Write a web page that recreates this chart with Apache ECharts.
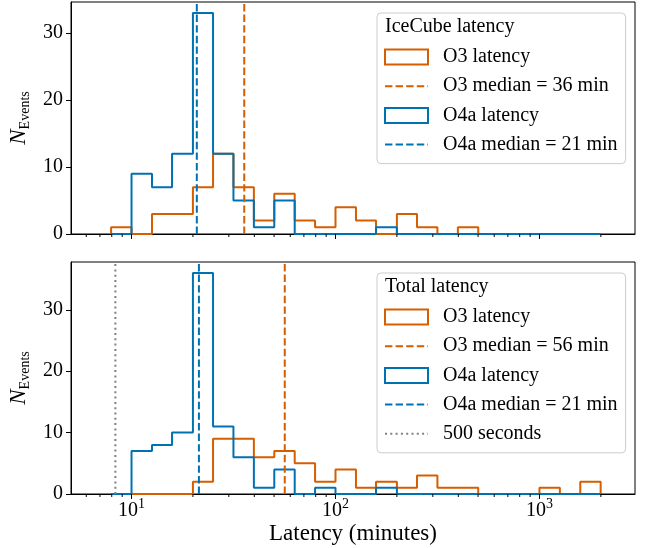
<!DOCTYPE html>
<html>
<head>
<meta charset="utf-8"/>
<script src="https://cdn.jsdelivr.net/npm/echarts@6/dist/echarts.min.js"></script>
<style>html,body{margin:0;padding:0;background:#fff;}</style>
</head>
<body>
<div id="chartmain" style="width:647px;height:548px;"></div>
<script type="text/javascript">
// log spaced bin edges (10 per decade), minutes
var binEdges = [7.94, 10, 12.6, 15.8, 20.0, 25.1, 31.6, 39.8, 50.1, 63.1, 79.4, 100, 126, 158, 200, 251, 316, 398, 501, 631, 794, 1000, 1259, 1585, 1995];
// counts per bin
var iceO3  = [1, 0, 3, 3, 7, 12, 7, 2, 6, 2, 1, 4, 2, 0, 3, 1, 0, 1, 0, 0, 0, 0, 0, 0];
var iceO4a = [0, 9, 7, 12, 33, 12, 5, 1, 5, 0, 0, 0, 0, 1, 0, 0, 0, 0, 0, 0, 0, 0, 0, 0];
var totO3  = [0, 0, 0, 0, 2, 9, 9, 6, 7, 5, 2, 4, 1, 2, 1, 3, 1, 1, 0, 0, 0, 1, 0, 2];
var totO4a = [0, 7, 8, 10, 36, 11, 6, 1, 4, 0, 1, 0, 0, 1, 0, 0, 0, 0, 0, 0, 0, 0, 0, 0];
// medians (minutes)
var iceMedians = [35.7, 20.9];
var totMedians = [56.4, 21.4];
var threshold = 500 / 60;
// ticks
var majorTicks = [10, 100, 1000];
var minorTicks = [6, 7, 8, 9, 20, 30, 40, 50, 60, 70, 80, 90, 200, 300, 400, 500, 600, 700, 800, 900, 2000];
var yTicks = [0, 10, 20, 30];

var orange = '#d55e00', blue = '#0072b2', grey = '#808080';
var font = 'Liberation Serif';

function stepPts(counts) {
  var pts = [[binEdges[0], 0]];
  for (var i = 0; i < counts.length; i++) {
    pts.push([binEdges[i], counts[i]]);
    pts.push([binEdges[i + 1], counts[i]]);
  }
  pts.push([binEdges[binEdges.length - 1], 0]);
  return pts;
}

function histSeries(name, counts, color, idx) {
  return {
    name: name, type: 'line', xAxisIndex: idx, yAxisIndex: idx,
    data: stepPts(counts), symbol: 'none', silent: true,
    lineStyle: {color: color, width: 2}, itemStyle: {color: color}
  };
}

function vline(name, x, color, dash, idx) {
  return {
    name: name, type: 'line', xAxisIndex: idx, yAxisIndex: idx,
    data: [[x, 0], [x, 100]], symbol: 'none', silent: true, z: 4,
    lineStyle: {color: color, width: 2, type: dash}, itemStyle: {color: color}
  };
}

function tickSeries(idx) {
  return {
    type: 'custom', xAxisIndex: idx, yAxisIndex: idx, silent: true, clip: false, z: 5,
    data: majorTicks.map(function (v) { return [v, 5]; }).concat(minorTicks.map(function (v) { return [v, 3]; })),
    renderItem: function (params, api) {
      var p = api.coord([api.value(0), 0]);
      return {
        type: 'line',
        shape: {x1: p[0], y1: p[1], x2: p[0], y2: p[1] + api.value(1)},
        style: {stroke: '#000', lineWidth: 1}
      };
    }
  };
}

function xAxis(idx, labels) {
  return {
    type: 'log', gridIndex: idx, min: 5.05, max: 2940,
    axisLine: {lineStyle: {color: '#000', width: 1}},
    axisTick: {show: false}, splitLine: {show: false}, minorTick: {show: false},
    axisLabel: {
      show: labels, showMinLabel: false, showMaxLabel: false, margin: 7,
      formatter: function (v) {
        var l = Math.log10(v), e = Math.round(l);
        if (Math.abs(l - e) > 0.01) return '';
        return '{b|10}{s|' + e + '}';
      },
      rich: {
        b: {fontFamily: font, fontSize: 20, lineHeight: 20, color: '#000', verticalAlign: 'bottom'},
        s: {fontFamily: font, fontSize: 14, lineHeight: 14, color: '#000', padding: [0, 0, 10, 0], verticalAlign: 'bottom'}
      }
    },
    name: labels ? 'Latency (minutes)' : '', nameLocation: 'middle', nameGap: 28,
    nameTextStyle: {fontFamily: font, fontSize: 23, color: '#000'}
  };
}

function yAxis(idx, max) {
  return {
    type: 'value', gridIndex: idx, min: 0, max: max,
    axisLine: {show: true, lineStyle: {color: '#000', width: 1}},
    axisTick: {show: true, length: 5, customValues: yTicks, lineStyle: {color: '#000'}},
    splitLine: {show: false},
    axisLabel: {fontFamily: font, fontSize: 20, color: '#000', margin: 8, customValues: yTicks},
    name: '{n|N}{s|Events}', nameLocation: 'middle', nameGap: 36,
    nameTextStyle: {
      rich: {
        n: {fontFamily: font, fontSize: 23, fontStyle: 'italic', color: '#000', lineHeight: 23, padding: [0, 0, 2, 0], verticalAlign: 'bottom'},
        s: {fontFamily: font, fontSize: 14, color: '#000', lineHeight: 14, verticalAlign: 'bottom'}
      }
    }
  };
}

function legend(top, names, extra) {
  var noMark = {opacity: 0};
  var data = [
    {name: 'O3 latency', icon: 'rect', itemStyle: {color: '#fff', borderColor: orange, borderWidth: 2}},
    {name: names[0], itemStyle: noMark},
    {name: 'O4a latency', icon: 'rect', itemStyle: {color: '#fff', borderColor: blue, borderWidth: 2}},
    {name: names[1], itemStyle: noMark}
  ];
  if (extra) data.push({name: extra, itemStyle: noMark});
  return {
    orient: 'vertical', left: 377, top: top, data: data,
    itemWidth: 43, itemHeight: 15, itemGap: 9.2,
    padding: [34, 8, 9, 7],
    backgroundColor: 'rgba(255,255,255,0.8)', borderColor: '#cccccc', borderWidth: 1, borderRadius: 4,
    selectedMode: false,
    textStyle: {fontFamily: font, fontSize: 20, color: '#000', lineHeight: 20, padding: [0, 0, 0, 10]}
  };
}

var iceNames = ['O3 median = ' + Math.round(iceMedians[0]) + ' min', 'O4a median = ' + Math.round(iceMedians[1]) + ' min'];
var totNames = ['O3 median = ' + Math.round(totMedians[0]) + ' min', 'O4a median = ' + Math.round(totMedians[1]) + ' min'];

var option = {
  animation: false,
  backgroundColor: '#fff',
  grid: [
    {left: 71, top: 2, width: 564, height: 232, outerBoundsMode: 'none', containLabel: false,
      show: true, borderColor: '#000', borderWidth: 1, backgroundColor: 'transparent'},
    {left: 71, top: 262, width: 564, height: 232, outerBoundsMode: 'none', containLabel: false,
      show: true, borderColor: '#000', borderWidth: 1, backgroundColor: 'transparent'}
  ],
  xAxis: [xAxis(0, false), xAxis(1, true)],
  yAxis: [yAxis(0, 34.65), yAxis(1, 37.8)],
  legend: [legend(13, iceNames), legend(273, totNames, '500 seconds')],
  graphic: [
    {type: 'text', left: 385, top: 17, style: {text: 'IceCube latency', fontFamily: font, fontSize: 20, fill: '#000'}, z: 100},
    {type: 'text', left: 385, top: 277, style: {text: 'Total latency', fontFamily: font, fontSize: 20, fill: '#000'}, z: 100}
  ],
  series: [
    histSeries('O3 latency', iceO3, orange, 0),
    histSeries('O4a latency', iceO4a, blue, 0),
    vline(iceNames[0], iceMedians[0], orange, [7.4, 3.2], 0),
    vline(iceNames[1], iceMedians[1], blue, [7.4, 3.2], 0),
    tickSeries(0),
    histSeries('O3 latency', totO3, orange, 1),
    histSeries('O4a latency', totO4a, blue, 1),
    vline(totNames[0], totMedians[0], orange, [7.4, 3.2], 1),
    vline(totNames[1], totMedians[1], blue, [7.4, 3.2], 1),
    vline('500 seconds', threshold, grey, [2, 3.3], 1),
    tickSeries(1)
  ]
};

var myChart = echarts.init(document.getElementById('chartmain'));
myChart.setOption(option);
</script>
</body>
</html>
